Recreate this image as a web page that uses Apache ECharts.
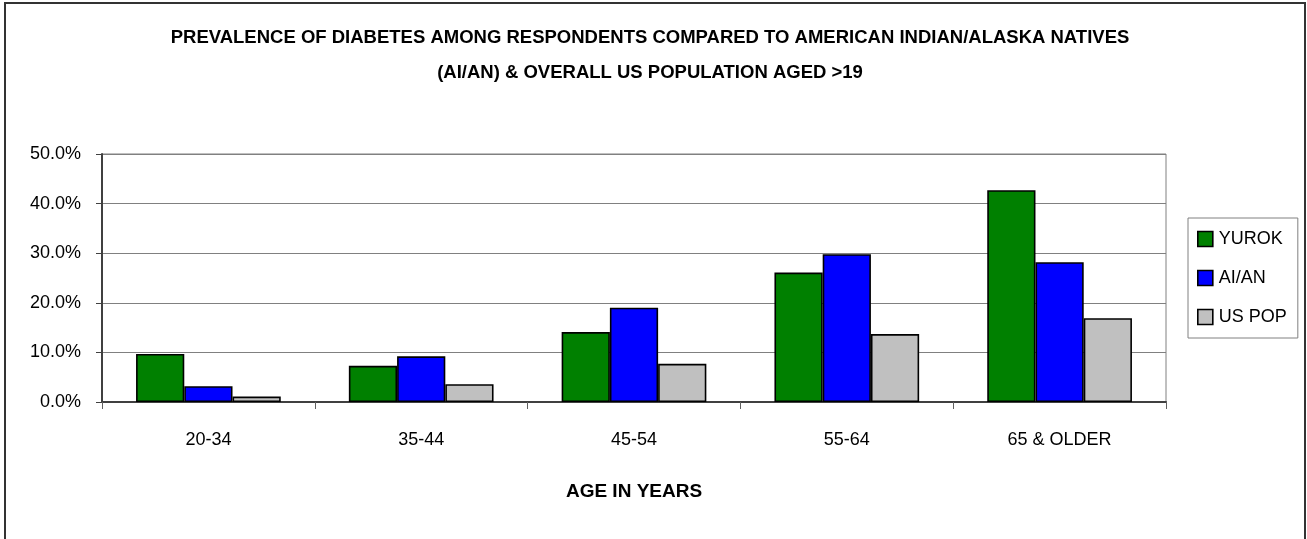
<!DOCTYPE html>
<html>
<head>
<meta charset="utf-8">
<title>Diabetes prevalence by age</title>
<script src="https://cdn.jsdelivr.net/npm/echarts@6/dist/echarts.min.js"></script>
<style>
  html, body { margin: 0; padding: 0; background: #fff; }
  #chart { width: 1307px; height: 539px; }
</style>
</head>
<body>
<div id="chart"></div>
<script>
// Age groups and prevalence (%) for each population
const ageGroups = ['20-34', '35-44', '45-54', '55-64', '65 & OLDER'];
const yurok = [9.7, 7.3, 14.1, 26.1, 42.7];
const aian = [3.2, 9.2, 19.0, 29.8, 28.2];
const usPop = [1.1, 3.6, 7.7, 13.7, 16.9];
const seriesNames = ['YUROK', 'AI/AN', 'US POP'];
const seriesColors = ['#008000', '#0000ff', '#c0c0c0'];

const FONT = '"Liberation Sans Narrow", "Arial Narrow", "Liberation Sans", Arial, sans-serif';

const chart = echarts.init(document.getElementById('chart'), null, { renderer: 'canvas' });

function barSeries(name, data, color) {
  return {
    name: name,
    type: 'bar',
    data: data,
    barGap: '0%',
    barCategoryGap: '32%',
    itemStyle: { color: color, borderColor: '#000', borderWidth: 1.6 },
    emphasis: { disabled: true }
  };
}

chart.setOption({
  animation: false,
  backgroundColor: '#fff',
  textStyle: { fontFamily: FONT },
  graphic: [{
    type: 'rect',
    shape: { x: 5, y: 3, width: 1300, height: 620 },
    style: { fill: 'none', stroke: '#333', lineWidth: 2 },
    silent: true,
    z: -1
  }],
  title: {
    text: 'PREVALENCE OF DIABETES AMONG RESPONDENTS COMPARED TO AMERICAN INDIAN/ALASKA NATIVES\n(AI/AN) & OVERALL US POPULATION AGED >19',
    left: 645,
    top: 15,
    textAlign: 'center',
    textStyle: {
      fontFamily: FONT,
      fontSize: 18.5,
      fontWeight: 'bold',
      color: '#000',
      lineHeight: 35,
      align: 'center'
    }
  },
  legend: {
    orient: 'vertical',
    left: 1188,
    top: 218,
    padding: [12, 11, 12, 9],
    itemGap: 21,
    itemWidth: 15,
    itemHeight: 15,
    borderColor: '#808080',
    borderWidth: 1,
    icon: 'rect',
    selectedMode: false,
    itemStyle: { borderColor: '#000', borderWidth: 1.6 },
    textStyle: { fontFamily: FONT, fontSize: 18, color: '#000', padding: [0, 0, 0, 1] },
    data: seriesNames
  },
  grid: {
    left: 102,
    right: 141,
    top: 154,
    bottom: 137,
    show: true,
    borderColor: '#808080',
    borderWidth: 1,
    containLabel: false
  },
  xAxis: {
    type: 'category',
    data: ageGroups,
    name: 'AGE IN YEARS',
    nameLocation: 'middle',
    nameGap: 80,
    nameTextStyle: { fontFamily: FONT, fontSize: 19, fontWeight: 'bold', color: '#000' },
    axisLine: { lineStyle: { color: '#404040', width: 2 } },
    axisTick: { show: true, alignWithLabel: false, length: 7, lineStyle: { color: '#606060', width: 1 } },
    axisLabel: { fontFamily: FONT, fontSize: 18, color: '#000', margin: 29 },
    splitLine: { show: false }
  },
  yAxis: {
    type: 'value',
    min: 0,
    max: 50,
    interval: 10,
    axisLine: { show: true, lineStyle: { color: '#404040', width: 2 } },
    axisTick: { show: true, length: 6, lineStyle: { color: '#404040', width: 1 } },
    axisLabel: {
      fontFamily: FONT,
      fontSize: 18,
      color: '#000',
      margin: 21,
      formatter: function (v) { return v.toFixed(1) + '%'; }
    },
    splitLine: { show: true, lineStyle: { color: '#808080', width: 1 } }
  },
  series: [
    barSeries(seriesNames[0], yurok, seriesColors[0]),
    barSeries(seriesNames[1], aian, seriesColors[1]),
    barSeries(seriesNames[2], usPop, seriesColors[2])
  ]
});
</script>
</body>
</html>
